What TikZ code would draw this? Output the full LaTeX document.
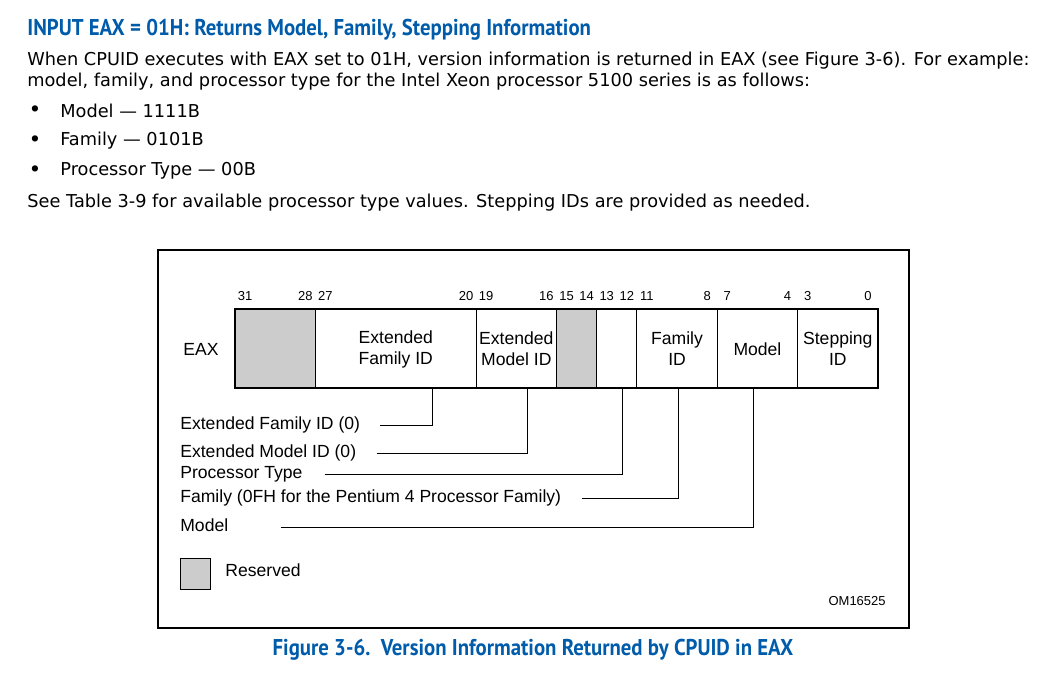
\documentclass[tikz,border=0pt]{standalone}
\usepackage{fontspec}
\setmainfont{DejaVu Sans}
\newfontfamily\diagfont{Liberation Sans}
\newfontfamily\headfont[FakeStretch=0.91]{PT Sans}
\usetikzlibrary{positioning, calc}
\definecolor{ibBlue}{RGB}{0, 92, 170}
\definecolor{ibGray}{RGB}{204, 204, 204}

\begin{document}
\begin{tikzpicture}[x=0.02cm, y=-0.02cm,
    body/.style={anchor=west, inner sep=0pt, font=\fontsize{10.1}{12}\selectfont},
    head/.style={inner sep=0pt, text=ibBlue, font=\headfont\bfseries\fontsize{13}{15}\selectfont},
    lbl/.style={inner sep=0pt, font=\diagfont\fontsize{10}{12}\selectfont},
    bitno/.style={inner sep=0pt, font=\diagfont\fontsize{7.4}{9}\selectfont},
    cell/.style={draw, line width=0.5pt},
    lead/.style={line width=0.55pt}]
  \useasboundingbox (0,0) rectangle (1047,683);
  % text above the figure
  \node[head, anchor=west] (title) at (27,30) {INPUT EAX = 01H: Returns Model, Family, Stepping Information};
  \node[body] (par1) at (27,61) {When CPUID executes with EAX set to 01H, version information is returned in EAX (see Figure 3-6). For example:};
  \node[body] (par2) at (27,82) {model, family, and processor type for the Intel Xeon processor 5100 series is as follows:};
  \foreach \yy/\txt [count=\i] in {111/{Model — 1111B}, 141/{Family — 0101B}, 171/{Processor Type — 00B}} {
    \node[body, font=\bfseries\fontsize{10.1}{12}\selectfont] (dot\i) at (29,\yy) {•};
    \node[body] (item\i) at (60,\yy) {\txt};
  }
  \node[body] (par3) at (27,203) {See Table 3-9 for available processor type values. Stepping IDs are provided as needed.};

  % figure frame
  \draw[line width=0.8pt] (158,250) rectangle (909,628);

  % register fields
  \foreach \hi/\lo/\fc/\txt in {32/28/ibGray/{}, 28/20/white/{Extended\\Family ID},
      20/16/white/{Extended\\Model ID}, 16/14/ibGray/{}, 14/12/white/{},
      12/8/white/{Family\\ID}, 8/4/white/{Model}, 4/0/white/{Stepping\\ID}} {
    \draw[cell, fill=\fc] ({878-\hi*20.094},309) rectangle ({878-\lo*20.094},388);
    \node[lbl, align=center] (fld\lo) at ({878-(\hi+\lo)*10.047},349) {\txt};
  }
  \draw[line width=0.9pt] (235,309) rectangle (878,388);
  \node[lbl] (eax) at (201,349) {EAX};
  \foreach \b in {31,28,27,20,19,16,15,14,13,12,11,8,7,4,3,0}
    \node[bitno] (bit\b) at ({878-(\b+0.5)*20.094},296) {\b};

  % leader lines
  \foreach \xx/\yb/\gap/\txt [count=\i] in {432/429/11.4/{Extended Family ID (0)},
      527/457/11.4/{Extended Model ID (0)}, 622/478/12.5/{Processor Type},
      678/502/11.4/{Family (0FH for the Pentium 4 Processor Family)}, 753/531/29.6/{Model}} {
    \coordinate (tap\i) at (\xx,388);
    \node[lbl, anchor=base west] (lead\i) at (180,\yb) {\txt};
    \draw[lead] ([shift={(\gap pt,2pt)}]lead\i.base east) -| (tap\i);
  }

  % legend
  \node[draw, fill=ibGray, line width=0.6pt, minimum width=0.6cm, minimum height=0.62cm,
        inner sep=0pt, anchor=north west] (resv) at (180,558) {};
  \node[lbl, right=8pt of resv, yshift=2pt] (resvtxt) {Reserved};
  \node[bitno, anchor=east] (omid) at (886,601) {OM16525};

  % caption
  \node[head] (caption) at (533,650) {Figure 3-6.\ \ Version Information Returned by CPUID in EAX};
\end{tikzpicture}
\end{document}
